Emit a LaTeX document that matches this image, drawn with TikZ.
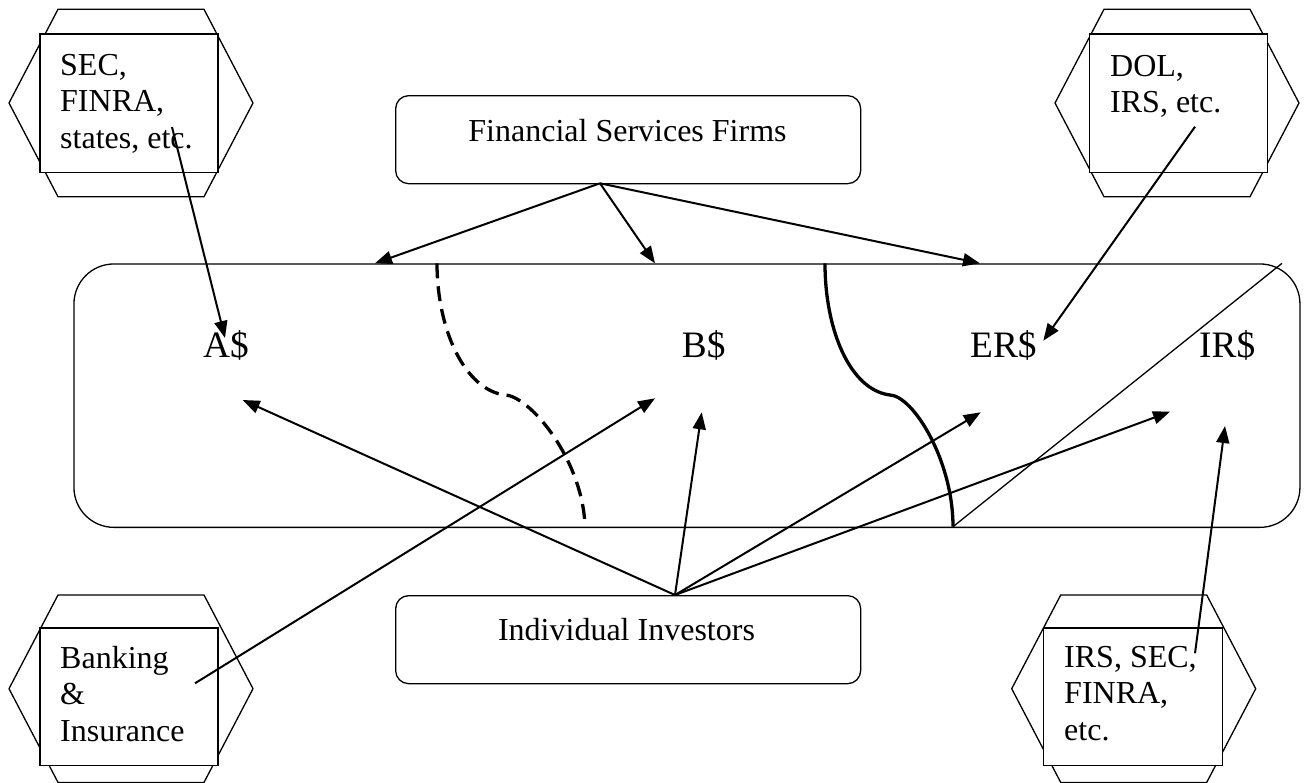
\documentclass[tikz,border=0pt]{standalone}
\usepackage{fontspec}
\setmainfont{Liberation Serif}
\usetikzlibrary{arrows.meta}
\begin{document}
\begin{tikzpicture}[x=1pt,y=-1pt,
  hexa/.style={line width=1.3pt, line join=miter},
  sq/.style={draw, line width=1.3pt, fill=white, inner sep=0pt, anchor=north west, minimum width=178pt, minimum height=138.4pt},
  rbox/.style={draw, line width=1.3pt, rounded corners=13pt, inner sep=0pt, minimum width=465pt, minimum height=88pt, anchor=north west},
  txt/.style={inner sep=0pt, anchor=base west, font=\fontsize{32}{36.7}\selectfont},
  big/.style={inner sep=0pt, anchor=base west, font=\fontsize{37.3}{42}\selectfont},
  arr/.style={line width=2pt, -{Triangle[length=17pt,width=13pt]}},
  curve/.style={line width=3.3pt},
  thin/.style={line width=1.3pt}
]
\useasboundingbox (0,0) rectangle (1306,782);

% hexagons
\foreach \L/\T in {9/9.3, 1055/9.3, 9/595, 1011.7/595}
  \draw[hexa] ({\L+49},{\T}) -- ({\L+195},{\T}) -- ({\L+244},{\T+93.7}) -- ({\L+195},{\T+187.4}) -- ({\L+49},{\T+187.4}) -- ({\L},{\T+93.7}) -- cycle;

% regulator boxes
\node[sq] (secbox) at (39.3,33.3) {};
\node[sq] (dolbox) at (1089,33.3) {};
\node[sq, minimum height=137.7pt] (bankbox) at (39.3,627.3) {};
\node[sq, minimum width=179pt, minimum height=137.7pt] (irsbox) at (1042.7,627.3) {};

\node[txt] (sect) at (60,75) {\parbox[t]{170pt}{SEC,\\FINRA,\\states, etc.}};
\node[txt] (dolt) at (1110,76) {\parbox[t]{150pt}{DOL,\\IRS, etc.}};
\node[txt] (bankt) at (60,668) {\parbox[t]{150pt}{Banking\\\&\\Insurance}};
\node[txt] (irst) at (1064,667) {\parbox[t]{150pt}{IRS, SEC,\\FINRA,\\etc.}};

% main boxes
\node[rbox] (fsf) at (395,95) {};
\node[txt, anchor=base] (fsft) at (627.5,141) {Financial Services Firms};
\node[rbox] (inv) at (395,595) {};
\node[txt, anchor=base] (invt) at (626.5,640) {Individual Investors};

\node[draw, line width=1.3pt, rounded corners=40pt, inner sep=0pt, minimum width=1226pt, minimum height=263.4pt, anchor=north west] (mkt) at (73.3,263.3) {};

\node[big] (la) at (203,357) {A\$};
\node[big] (lb) at (681.7,357) {B\$};
\node[big] (ler) at (970,357) {ER\$};
\node[big] (lir) at (1199,357) {IR\$};

% coordinates
\coordinate (fo) at (600,183.3);
\coordinate (io) at (675,595);
\coordinate (fa) at (375,263.3);
\coordinate (fb) at (655,263.3);
\coordinate (fe) at (980,263.3);
\coordinate (ia) at (242.7,400);
\coordinate (ib) at (701.7,412.3);
\coordinate (ie) at (980.7,412.3);
\coordinate (ii) at (1170,411.7);
\coordinate (so) at (172,127);
\coordinate (st) at (225,338);
\coordinate (dso) at (1195,126.7);
\coordinate (dst) at (1043.3,340.7);
\coordinate (bo) at (195,683.3);
\coordinate (bt) at (655,398.3);
\coordinate (ro) at (1195,653.3);
\coordinate (rt) at (1225,426);

% arrows from firms
\draw[arr] (fo) -- (fa);
\draw[arr] (fo) -- (fb);
\draw[arr] (fo) -- (fe);
% arrows from investors
\draw[arr] (io) -- (ia);
\draw[arr] (io) -- (ib);
\draw[arr] (io) -- (ie);
\draw[arr] (io) -- (ii);
% regulator arrows
\draw[arr] (so) -- (st);
\draw[arr] (dso) -- (dst);
\draw[arr] (bo) -- (bt);
\draw[arr] (ro) -- (rt);

% dividing curves
\coordinate (d0) at (437,263.3);
\coordinate (d1) at (505,395);
\coordinate (d2) at (585,526.7);
\draw[curve, dash pattern=on 15pt off 8pt] (d0) .. controls (437,330) and (465,390) .. (d1) .. controls (530,396) and (583,460) .. (d2);
\coordinate (c0) at (825,263.3);
\coordinate (c1) at (890,395);
\coordinate (c2) at (953,526.7);
\draw[curve] (c0) .. controls (825,330) and (850,390) .. (c1) .. controls (913,396) and (953,460) .. (c2);
\coordinate (tl) at (1282,263.3);
\draw[thin] (c2) -- (tl);
\end{tikzpicture}
\end{document}
